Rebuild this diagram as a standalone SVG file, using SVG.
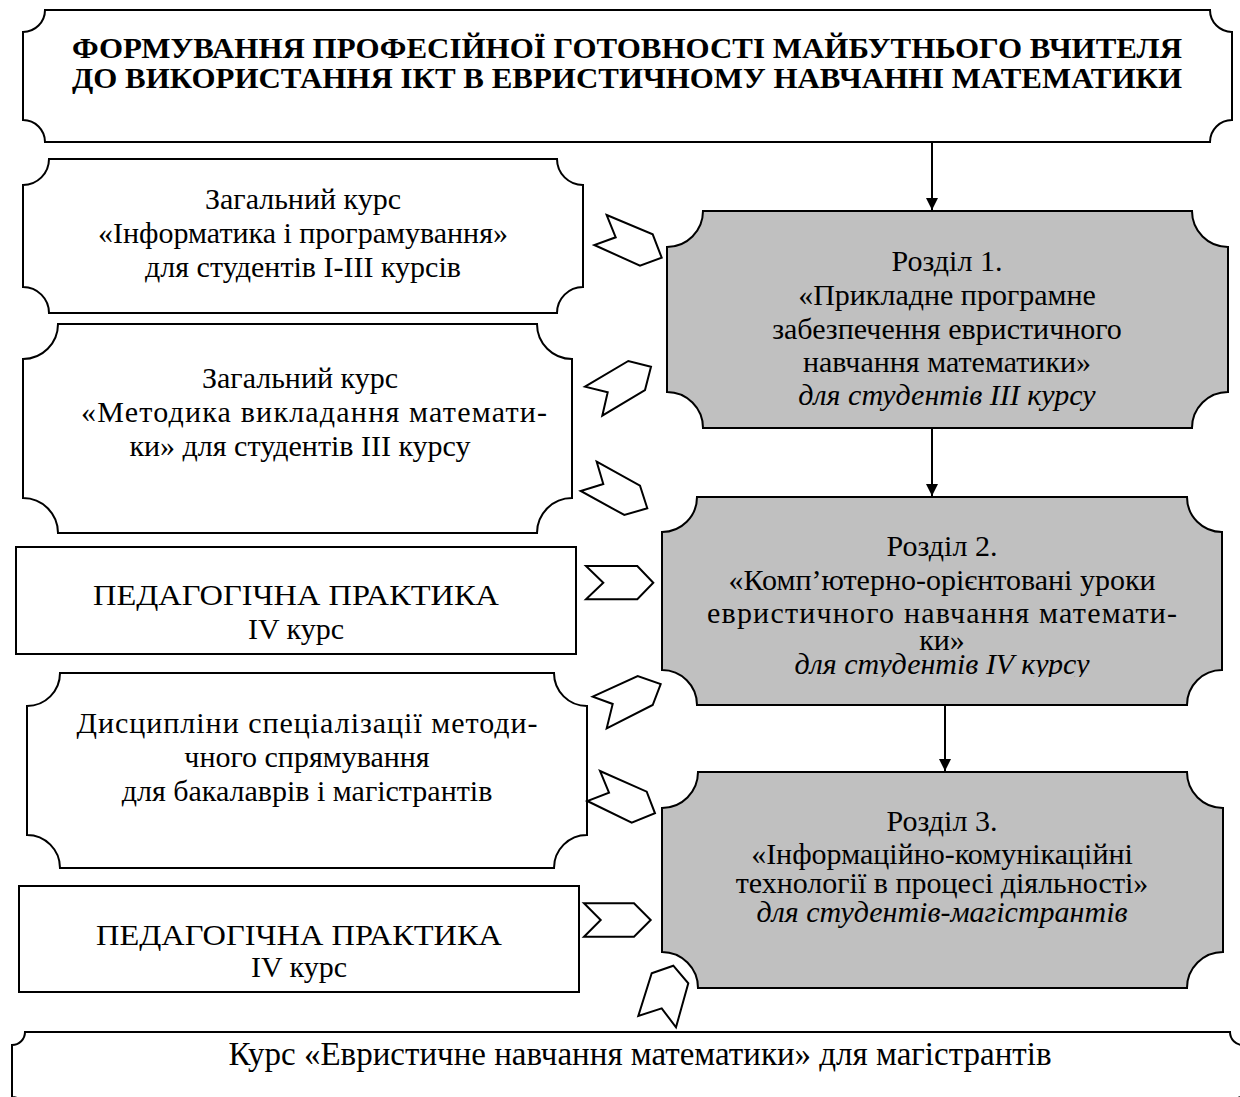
<svg xmlns="http://www.w3.org/2000/svg" width="1240" height="1097" viewBox="0 0 1240 1097">
<defs>
<style>
.box{fill:#fff;stroke:#000;stroke-width:2}
.gray{fill:#c0c0c0;stroke:#000;stroke-width:2}
.chev{fill:#fff;stroke:#000;stroke-width:2;stroke-linejoin:miter}
.t{font-family:"Liberation Serif","Times New Roman",serif;font-size:30px;fill:#000;text-anchor:middle}
.b{font-weight:bold;font-size:29px}
.i{font-style:italic}
.line{stroke:#000;stroke-width:2;fill:none}
</style>
<marker id="ah" viewBox="0 0 12 12" refX="12" refY="6" markerWidth="12" markerHeight="12" markerUnits="userSpaceOnUse" orient="auto">
<path d="M0,0 L12,6 L0,12 Z" fill="#000"/>
</marker>
<clipPath id="clip2"><rect x="662" y="497" width="560" height="180"/></clipPath>
</defs>
<rect width="1240" height="1097" fill="#fff"/>

<g id="title">
<path class="box" d="M45,10 H1210 A22,22 0 0 0 1232,32 V120 A22,22 0 0 0 1210,142 H45 A22,22 0 0 0 23,120 V32 A22,22 0 0 0 45,10 Z"/>
<text class="t b" x="627" y="58" textLength="1110" lengthAdjust="spacingAndGlyphs">ФОРМУВАННЯ ПРОФЕСІЙНОЇ ГОТОВНОСТІ МАЙБУТНЬОГО ВЧИТЕЛЯ</text>
<text class="t b" x="627" y="88" textLength="1110" lengthAdjust="spacingAndGlyphs">ДО ВИКОРИСТАННЯ ІКТ В ЕВРИСТИЧНОМУ НАВЧАННІ МАТЕМАТИКИ</text>
</g>

<g id="box1">
<path class="box" d="M49,159 H557 A26,26 0 0 0 583,185 V287 A26,26 0 0 0 557,313 H49 A26,26 0 0 0 23,287 V185 A26,26 0 0 0 49,159 Z"/>
<text class="t" x="303" y="209">Загальний курс</text>
<text class="t" x="303" y="243">«Інформатика і програмування»</text>
<text class="t" x="303" y="277">для студентів І-ІІІ курсів</text>
</g>

<g id="box2">
<path class="box" d="M58,324 H537 A35,35 0 0 0 572,359 V498 A35,35 0 0 0 537,533 H58 A35,35 0 0 0 23,498 V359 A35,35 0 0 0 58,324 Z"/>
<text class="t" x="300" y="388">Загальний курс</text>
<text class="t" x="314" y="422" textLength="466">«Методика викладання математи-</text>
<text class="t" x="300" y="456">ки» для студентів ІІІ курсу</text>
</g>

<g id="box3">
<rect class="box" x="16" y="547" width="560" height="107"/>
<text class="t" x="296" y="605" textLength="406" lengthAdjust="spacingAndGlyphs">ПЕДАГОГІЧНА ПРАКТИКА</text>
<text class="t" x="296" y="639">IV курс</text>
</g>

<g id="box4">
<path class="box" d="M60,673 H554 A33,33 0 0 0 587,706 V835 A33,33 0 0 0 554,868 H60 A33,33 0 0 0 27,835 V706 A33,33 0 0 0 60,673 Z"/>
<text class="t" x="307" y="733" textLength="461">Дисципліни спеціалізації методи-</text>
<text class="t" x="307" y="767">чного спрямування</text>
<text class="t" x="307" y="801">для бакалаврів і магістрантів</text>
</g>

<g id="box5">
<rect class="box" x="19" y="886" width="560" height="106"/>
<text class="t" x="299" y="945" textLength="406" lengthAdjust="spacingAndGlyphs">ПЕДАГОГІЧНА ПРАКТИКА</text>
<text class="t" x="299" y="977">IV курс</text>
</g>

<g id="section1">
<path class="gray" d="M703,211 H1192 A36,36 0 0 0 1228,247 V392 A36,36 0 0 0 1192,428 H703 A36,36 0 0 0 667,392 V247 A36,36 0 0 0 703,211 Z"/>
<text class="t" x="947" y="271">Розділ 1.</text>
<text class="t" x="947" y="305">«Прикладне програмне</text>
<text class="t" x="947" y="339">забезпечення евристичного</text>
<text class="t" x="947" y="372">навчання математики»</text>
<text class="t i" x="947" y="405">для студентів ІІІ курсу</text>
</g>

<g id="section2">
<path class="gray" d="M697,497 H1187 A35,35 0 0 0 1222,532 V670 A35,35 0 0 0 1187,705 H697 A35,35 0 0 0 662,670 V532 A35,35 0 0 0 697,497 Z"/>
<text class="t" x="942" y="556">Розділ 2.</text>
<text class="t" x="942" y="590">«Комп’ютерно-орієнтовані уроки</text>
<text class="t" x="942" y="623" textLength="470">евристичного навчання математи-</text>
<text class="t" x="942" y="650">ки»</text>
<text class="t i" x="942" y="674" clip-path="url(#clip2)">для студентів IV курсу</text>
</g>

<g id="section3">
<path class="gray" d="M698,772 H1187 A36,36 0 0 0 1223,808 V952 A36,36 0 0 0 1187,988 H698 A36,36 0 0 0 662,952 V808 A36,36 0 0 0 698,772 Z"/>
<text class="t" x="942" y="831">Розділ 3.</text>
<text class="t" x="942" y="864">«Інформаційно-комунікаційні</text>
<text class="t" x="942" y="893">технології в процесі діяльності»</text>
<text class="t i" x="942" y="922">для студентів-магістрантів</text>
</g>

<g id="course">
<path class="box" d="M25,1032 H1230 A13,13 0 0 0 1243,1045 V1097 A13,13 0 0 0 1230,1110 H25 A13,13 0 0 0 12,1097 V1045 A13,13 0 0 0 25,1032 Z"/>
<text class="t" x="640" y="1065" style="font-size:33px">Курс «Евристичне навчання математики» для магістрантів</text>
</g>

<g id="connectors">
<line class="line" x1="932" y1="142" x2="932" y2="210" marker-end="url(#ah)"/>
<line class="line" x1="932" y1="428" x2="932" y2="496" marker-end="url(#ah)"/>
<line class="line" x1="945" y1="705" x2="945" y2="771" marker-end="url(#ah)"/>
<polygon class="chev" points="606.7,215 652.7,234.3 661.7,257.7 640,265.7 594.3,245 615.7,237.3"/>
<polygon class="chev" points="585,386.7 628.3,361 651,366.7 645,390 602.3,415.7 607.7,392.3"/>
<polygon class="chev" points="596.7,461.7 640,485.7 647.3,508.3 624.3,515 580.7,491 603.3,484"/>
<polygon class="chev" points="586,566 637.3,566 653.3,582.7 637.3,599.3 586,599.3 603.3,582.7"/>
<polygon class="chev" points="592.7,696.7 637.7,676 660.7,684 652.7,705 606.7,728.3 612.7,704"/>
<polygon class="chev" points="600,771 646.7,791.7 655,813.3 631.7,822.7 587.3,801 609,792.7"/>
<polygon class="chev" points="584,903.3 634,903.3 650.7,920 634,936.7 584,936.7 600.7,920"/>
<polygon class="chev" points="651.7,973.3 673.3,965.7 688.3,983.3 676,1027.3 661.7,1008.3 638.3,1016"/>
</g>
</svg>
